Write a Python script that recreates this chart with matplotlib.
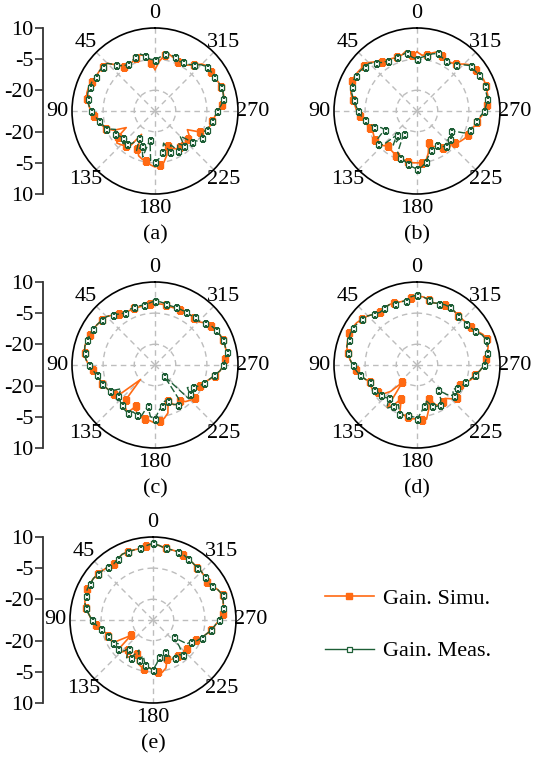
import numpy as np
import matplotlib.pyplot as plt
from matplotlib.lines import Line2D

plt.rcParams['font.family'] = ['Liberation Serif', 'DejaVu Serif']

# angle grid (deg, counter-clockwise from top) and gain in dB
angles = np.arange(0, 360, 5)

simu_a = [-10, -7, -3, -2, -3, -4, -4.5, -4, -1, 2.5, 3, 3, 3, 3.5, 4, 4, 3.5, 2,
          1, -0.5, -2, -3.5, -5, -8, -14, -8, -6, -7, -8, -10, -17, -10, -7, -6, -5.5, -4,
          -3, -4, -5, -8, -12, -10, -9, -9, -10, -8, -9, -10, -12, -6, -3.5, -2.5, -2, -1,
          0.5, 2.5, 4, 4, 4, 3.5, 3, 3, 3.5, 2, -1, -3, -3.5, -4, -3, -2, -2.5, -6]
meas_a = [-5.5, -5, -3, -1.5, -2.5, -3.5, -4, -3.5, -1, 2.5, 3, 3, 3, 3.5, 3.5, 3.5, 3, 2,
          1, -1, -2.5, -4, -5, -9, -8, -9, -10, -8, -9, -11, -15, -9, -12, -7, -16, -6,
          -5.5, -7, -10, -14, -9, -12, -8, -11, -8, -13, -7, -5, -4, -5, -3.5, -3, -2, -1,
          0, 2, 3.5, 4, 4, 3.5, 3, 3, 3, 1.5, -1, -2.5, -3, -3.5, -2.5, -1.5, -2, -4]

simu_b = [-1.5, -3, -0.5, -2, -2.5, -2, -1.5, -1, 1, 3, 3.5, 4, 4.5, 4.5, 4, 3, 1.5, 0,
          -1, -2.5, -4, -5, -6, -6.5, -6, -5.5, -5, -6.5, -8, -7.5, -7, -6, -6.5, -5.5, -5, -5,
          -5, -5, -5.5, -9, -13.5, -11, -10.5, -8, -6, -7, -5.8, -4.5, -3.5, -3, -2.5, -1.5, -0.5, 1,
          3, 4, 5, 5, 5.5, 5.5, 5, 4.5, 4.5, 2, -0.5, -1.5, -2, -1, 0.5, -1, -2.5, -3]
meas_b = [-5, -4, -1.5, -2, -2.5, -2.5, -2, -1.5, 0.5, 2.5, 3, 3.5, 4, 4, 3.5, 2.5, 1, -0.5,
          -1.5, -3, -4.5, -6, -8, -11, -12, -7, -5.5, -7, -15, -10, -17, -8, -6, -5.5, -4, -3,
          -2, -3, -5, -8, -10, -9, -11, -9, -8, -10, -9, -10, -11, -5, -3, -2, -1, 0.5,
          2.5, 3.5, 4.5, 4.5, 5, 5, 4.5, 4, 4, 1.5, -1, -2, -2, -1.5, -0.5, -1.5, -3, -4]

simu_c = [-0.5, -0.5, -1, -1, -1, -1, -1, 0, 1.5, 3, 3.5, 4, 4.5, 4.5, 5, 5, 4.5, 3.5,
          2, 0, -1.5, -2.5, -3, -4, -5, -6, -9, -20, -8, -5, -3.5, -8, -4.5, -4, -3.5, -3,
          -2, -3, -4, -6, -11.5, -9, -8, -9, -7, -6, -5, -8, -8, -6, -5, -3, -0.5, 1.5,
          3, 4, 5, 5, 5, 4.5, 4, 3, 1.5, -0.5, -0.5, -0.5, -0.5, -1, -1, -1, -0.5, -0.5]
meas_c = [1, 0, -0.5, -0.5, -0.5, -0.5, -1, 0, 1.5, 3, 3.5, 4, 4.5, 4.5, 5, 5, 4.5, 3.5,
          2, 0, -1.5, -2.5, -3, -4, -5, -10, -7, -6, -5, -4, -3.5, -5, -4.5, -4.5, -10, -5,
          -4, -8, -10, -12, -11.5, -9, -8, -10, -23, -7, -8, -11, -9, -6, -5, -3, -1, 1.5,
          3, 4, 5, 5, 5, 4.5, 4, 3, 1.5, 0, 0, -0.5, -0.5, -0.5, -0.5, -0.5, 0, 0.5]

simu_d = [3, 2.5, 1.5, 1.5, 2, 2, 1.5, 1, 2, 3.5, 4.5, 5.5, 6, 6, 5.5, 5, 4, 2.5,
          1, -0.5, -2, -4, -6, -5.5, -5.5, -7, -8, -12, -19, -5, -8, -12, -6, -5, -4.5, -4,
          -4, -3.5, -3.5, -8, -12.5, -9, -7, -8, -9, -7, -5, -6, -8, -7, -5, -3, -1.5, 0.5,
          2.5, 3.5, 4.5, 5.5, 6, 5, 3, 2, 1.5, 1, 1, 1.5, 2, 2, 1.5, 1, 2, 3]
meas_d = [3.8, 3, 1.5, 1.4, 1.5, 2, 1.5, 1, 2, 3.5, 4.5, 5, 5.5, 5.5, 5, 5, 4, 2.5,
          1, -0.5, -2, -4, -6, -6, -6, -7, -7.5, -8, -9, -4.5, -7, -9, -5, -5, -5.5, -5,
          -4, -7, -10, -12, -9, -8, -7.5, -10, -14.5, -10, -7, -9, -8, -6, -5.5, -3.5, -1.5, 0.5,
          2.4, 3.5, 4.3, 5, 5.5, 4.5, 2.4, 1.5, 1, 1, 1, 1.5, 2, 2, 1.5, 1, 2, 3]

simu_e = [6.5, 6, 5, 5, 5, 5, 4, 3, 3.5, 4, 4.5, 5, 5, 5, 4.5, 4, 3, 1,
          -0.5, -2.5, -4.5, -6.3, -7, -7, -9, -17, -9, -8, -11, -8, -10, -12, -8, -7, -6, -7,
          -6, -5, -4.4, -6, -10, -9, -8.7, -9, -7.8, -9, -8.3, -8.5, -9, -7, -5, -3.5, -1.5, 0,
          2, 3.8, 4.5, 5, 5.7, 4.5, 3, 2, 2.5, 3, 3, 3.5, 4, 4.7, 5, 5, 5, 6]
meas_e = [7, 6, 5, 5, 5, 5, 4, 3, 3.5, 4, 4.5, 5, 5, 5, 4.5, 4, 3, 1,
          -0.5, -2.5, -4.5, -6.3, -7, -7.5, -8, -10, -8, -8, -12, -7.8, -9, -14, -9.7, -12, -8, -7,
          -6, -9, -12, -9, -13.6, -10, -8.7, -10, -7.8, -12, -17, -10, -9, -6.5, -5, -3.5, -1.5, 0,
          2, 3.8, 4.5, 5, 5.7, 4.5, 3, 2, 2.5, 3, 3, 3.5, 4, 4.7, 5, 5, 5, 6]

panel_labels = ['(a)', '(b)', '(c)', '(d)', '(e)']
r_ticks = [10, -5, -20]
r_min, r_max = -30, 10

ORANGE = '#ff6a13'
GREEN = '#1d5e36'
GRID = '#bdbdbd'

W, H = 534, 760
R = 83
FS = 16
fig = plt.figure(figsize=(W / 100, H / 100), dpi=100)

centers = [(155, 111), (417, 111), (155, 365), (417, 365), (153, 620)]
data = [(simu_a, meas_a), (simu_b, meas_b), (simu_c, meas_c),
        (simu_d, meas_d), (simu_e, meas_e)]


def closed(vals):
    return np.append(vals, vals[0])


theta = np.deg2rad(np.append(angles, 360))

for i, ((cx, cy), (simu, meas)) in enumerate(zip(centers, data)):
    ax = fig.add_axes([(cx - R) / W, (H - cy - R) / H, 2 * R / W, 2 * R / H],
                      projection='polar')
    ax.set_theta_zero_location('N')
    ax.set_theta_direction(1)
    ax.set_ylim(r_min, r_max)
    ax.set_yticks([-20, -5])
    ax.set_yticklabels([])
    ax.set_xticks(np.deg2rad(np.arange(0, 360, 45)))
    ax.set_xticklabels([])
    ax.grid(True, color=GRID, ls=(0, (4, 3)), lw=1.0)
    ax.spines['polar'].set_linewidth(1.2)
    ax.tick_params(axis='x', length=6, direction='in', color='black', width=1.2)

    ax.plot(theta, closed(simu), color=ORANGE, lw=1.2, marker='s', ms=4.2,
            markevery=(1, 3), zorder=3)
    ax.plot(theta, closed(meas), color=GREEN, lw=1.0, ls=(0, (5, 2)), marker='s',
            ms=3.6, mfc='white', mec=GREEN, mew=0.9, markevery=2, zorder=4)

    for a in range(0, 360, 45):
        ax.text(np.deg2rad(a), 17, str(a), ha='center', va='center', fontsize=FS)

    fig.text(cx / W, 1 - (cy + 124) / H, panel_labels[i], ha='center', va='center',
             fontsize=FS)

    # mirrored radial scale on the left of panels a, c, e
    if i % 2 == 0:
        lax = fig.add_axes([43 / W, (H - cy - R) / H, 0.001, 2 * R / H])
        lax.set_ylim(-(r_max - r_min), r_max - r_min)
        pos = [t - r_min for t in r_ticks] + [-(t - r_min) for t in r_ticks]
        lax.set_yticks(pos)
        lax.set_yticklabels([str(t) for t in r_ticks] * 2)
        lax.set_xticks([])
        for s in ['top', 'right', 'bottom']:
            lax.spines[s].set_visible(False)
        lax.spines['left'].set_linewidth(1.3)
        lax.spines['left'].set_color('#333333')
        lax.tick_params(axis='y', length=6, width=1.2, color='#333333',
                        labelsize=FS, pad=1)
        lax.patch.set_visible(False)

handles = [
    Line2D([], [], color=ORANGE, lw=1.2, marker='s', ms=4.2),
    Line2D([], [], color=GREEN, lw=1.0, marker='s', ms=3.6, mfc='white',
           mec=GREEN, mew=0.9),
]
fig.legend(handles, ['Gain. Simu.', 'Gain. Meas.'], loc='upper left',
           bbox_to_anchor=(325 / W, 1 - 588 / H), frameon=False, fontsize=FS,
           handlelength=2.2, handletextpad=0.4, labelspacing=1.45,
           borderpad=0, borderaxespad=0)

fig.savefig('out.png', dpi=100)
